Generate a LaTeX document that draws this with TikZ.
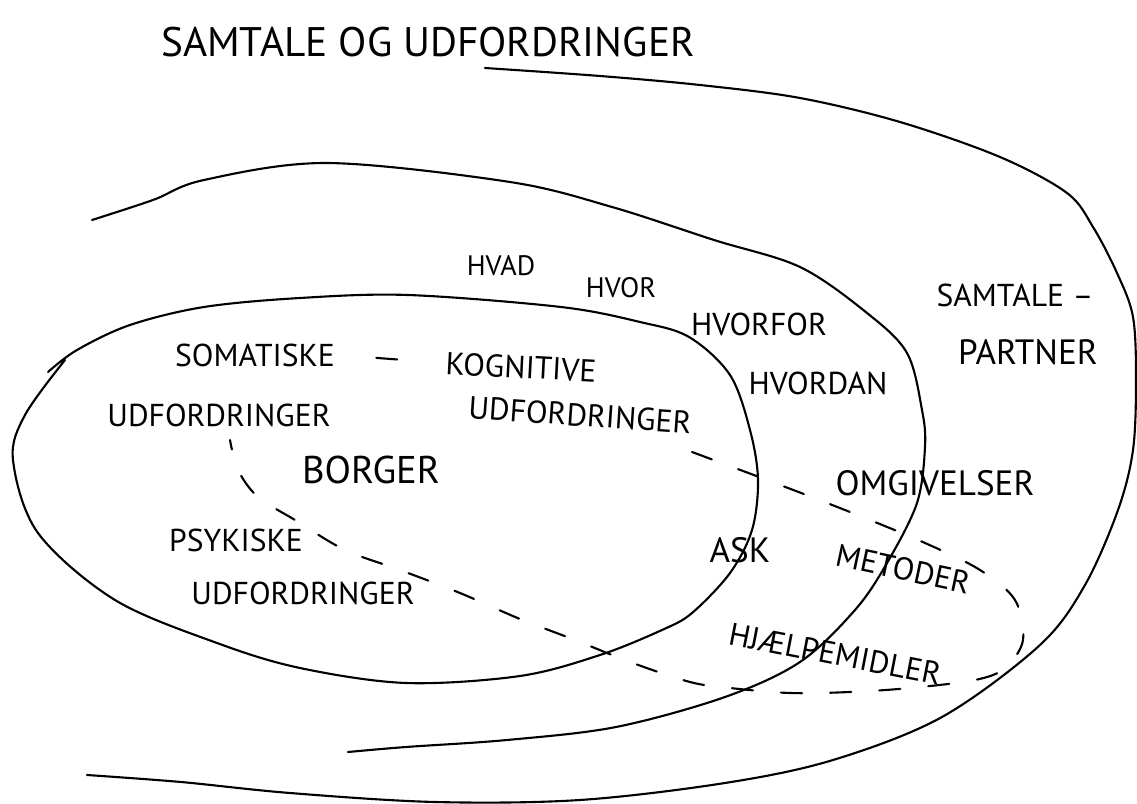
\documentclass[tikz,border=0pt]{standalone}
\usepackage{fontspec}
\setmainfont{PT Sans}
\begin{document}
\begin{tikzpicture}[x=0.02cm, y=-0.02cm, line width=1.2pt,
    every node/.style={font=\fontsize{18}{20}\selectfont, inner sep=1pt},
    ring/.style={line cap=round, line join=round},
    dashring/.style={line cap=round, dash pattern=on 12pt off 16pt},
    word/.style={font=\fontsize{16}{18}\selectfont},
    bigword/.style={font=\fontsize{20}{22}\selectfont}]

  \useasboundingbox (0,0) rectangle (1137,804);

  % overskrift
  \node[font=\fontsize{23.5}{26}\selectfont] (title) at (428,42) {SAMTALE OG UDFORDRINGER};

  % yderste bue, starter som understregning
  \draw[ring] plot[smooth, tension=0.55] coordinates {(485,68) (600,76) (700,85) (800,98)
    (900,122) (1000,157) (1067,193) (1093,227) (1117,273) (1133,317) (1136,380) (1133,450)
    (1118,510) (1085,585) (1040,645) (942,717) (833,760) (725,783) (580,800) (435,802)
    (290,793) (181,782) (87,775)};

  % midterste bue
  \draw[ring] plot[smooth, tension=0.55] coordinates {(92,220) (153,200) (204,180) (327,163)
    (510,182) (612,207) (714,240) (800,267) (867,313) (907,353) (922,410) (925,447) (917,503)
    (887,563) (855,610) (800,662) (725,697) (616,727) (507,740) (406,747) (348,752)};

  % inderste ellipse (borger)
  \draw[ring] plot[smooth, tension=0.55] coordinates {(48,372) (77,350) (130,325) (204,307)
    (300,298) (408,295) (561,307) (640,322) (689,337) (730,375) (750,430) (758,480) (752,530)
    (730,573) (692,613) (662,630) (600,655) (520,676) (406,683) (300,668) (217,643) (115,600)
    (38,533) (13,460) (25,415) (65,360)};

  % stiplet felt
  \draw[dashring] plot[smooth, tension=0.55] coordinates {(692,452) (767,480) (850,512)
    (925,543) (980,570) (1015,600) (1023,640) (1005,668) (975,680) (910,688) (850,692)
    (790,693) (730,688) (690,682) (630,662) (575,640) (520,619) (460,593) (400,570)
    (345,550) (295,520) (258,497) (238,470) (230,440)};

  % borger
  \node (soma) at (255,355) {SOMATISKE};
  \node[rotate=-3] (kogn) at (521,367) {KOGNITIVE};
  \draw[ring, shorten <=34pt, shorten >=38pt] (soma.east) -- (kogn.west);
  \node (somaud) at (219,415) {UDFORDRINGER};
  \node[rotate=-4] (kognud) at (580,415) {UDFORDRINGER};
  \node[font=\fontsize{22}{24}\selectfont] (borger) at (371,470) {BORGER};
  \node (psyk) at (236,540) {PSYKISKE};
  \node (psykud) at (303,593) {UDFORDRINGER};

  % spørgsmål
  \node[word] (hvad) at (501,266) {HVAD};
  \node[word] (hvor) at (621,288) {HVOR};
  \node (hvorfor) at (759,324) {HVORFOR};
  \node (hvordan) at (818,383) {HVORDAN};

  % samtalepartner
  \node (samtale) at (1015,295) {SAMTALE –};
  \node[bigword] (partner) at (1028,352) {PARTNER};

  % omgivelser og redskaber
  \node[bigword] (omgiv) at (935,483) {OMGIVELSER};
  \node[bigword] (ask) at (740,550) {ASK};
  \node[rotate=-12, inner sep=0pt] (metoder) at (903,569) {METODER};
  \node[rotate=-11, inner sep=0pt] (hjaelp) at (835,654) {HJÆLPEMIDLER};

\end{tikzpicture}
\end{document}
